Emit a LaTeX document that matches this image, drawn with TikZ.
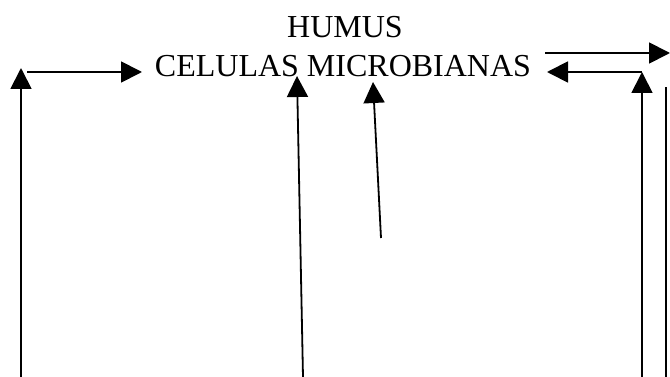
\documentclass[tikz,border=0pt]{standalone}
\usepackage{fontspec}
\setmainfont{Liberation Serif}
\usetikzlibrary{arrows.meta,positioning}

\tikzset{
  flow/.style={line width=1.8pt,-{Triangle[length=21pt,width=21pt]}},
  plain/.style={line width=1.8pt},
  label/.style={font=\fontsize{32}{39}\selectfont,inner sep=0pt}
}

\begin{document}
\begin{tikzpicture}[x=1pt,y=-1pt]
\useasboundingbox (0,0) rectangle (670,377);
\node[label] (celulas) at (343,66) {CELULAS MICROBIANAS};
\node[label] (humus) at (345,27) {HUMUS};
% left loop
\coordinate (lbot) at (21,377);
\coordinate (ltop) at (21,68);
\coordinate (lrow) at (27,72);
\coordinate (lend) at (142,72);
\draw[flow] (lbot) -- (ltop);
\draw[flow] (lrow) -- (lend);
% arrows from below
\coordinate (mbot) at (303,377);
\coordinate (mtop) at (297,76);
\coordinate (cbot) at (381,238);
\coordinate (ctop) at (373,82);
\draw[flow] (mbot) -- (mtop);
\draw[flow] (cbot) -- (ctop);
% right side
\coordinate (rout) at (545,53);
\coordinate (rend) at (670,53);
\coordinate (rin) at (642,72);
\coordinate (rtip) at (547,72);
\coordinate (rbot) at (642,377);
\draw[flow] (rout) -- (rend);
\draw[flow] (rin) -- (rtip);
\draw[flow] (rbot) -- (rin);
\draw[plain] (666,377) -- (666,87);
\end{tikzpicture}
\end{document}
